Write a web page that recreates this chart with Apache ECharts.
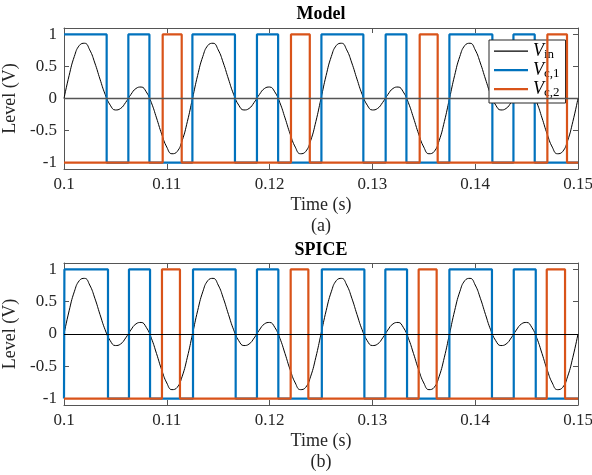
<!DOCTYPE html>
<html><head><meta charset="utf-8">
<script src="https://cdn.jsdelivr.net/npm/echarts@6/dist/echarts.min.js"></script>
<style>html,body{margin:0;padding:0;background:#fff}#c{width:592px;height:475px}</style>
</head><body><div id="c"></div>
<script>
// ---- data ----
const xTicks = [0.1, 0.11, 0.12, 0.13, 0.14, 0.15];
const yTicks = [-1, -0.5, 0, 0.5, 1];
const yTickLabels = ['-1', '-0.5', '0', '0.5', '1'];

const vinT = [0.1000,0.1005,0.1010,0.1015,0.1020,0.1025,0.1030,0.1035,0.1040,0.1045,
0.1050,0.1055,0.1060,0.1065,0.1070,0.1075,0.1080,0.1085,0.1090,0.1095,
0.1100,0.1105,0.1110,0.1115,0.1120,0.1125,0.1130,0.1135,0.1140,0.1145,
0.1150,0.1155,0.1160,0.1165,0.1170,0.1175,0.1180,0.1185,0.1190,0.1195,
0.1200,0.1205,0.1210,0.1215,0.1220,0.1225,0.1230,0.1235,0.1240,0.1245,
0.1250,0.1255,0.1260,0.1265,0.1270,0.1275,0.1280,0.1285,0.1290,0.1295,
0.1300,0.1305,0.1310,0.1315,0.1320,0.1325,0.1330,0.1335,0.1340,0.1345,
0.1350,0.1355,0.1360,0.1365,0.1370,0.1375,0.1380,0.1385,0.1390,0.1395,
0.1400,0.1405,0.1410,0.1415,0.1420,0.1425,0.1430,0.1435,0.1440,0.1445,
0.1450,0.1455,0.1460,0.1465,0.1470,0.1475,0.1480,0.1485,0.1490,0.1495,0.1500];
const vinV = [0,0.360,0.654,0.829,0.862,0.759,0.554,0.303,0.066,-0.104,-0.179,-0.156,-0.061,0.061,0.156,0.179,0.104,-0.066,-0.303,-0.554,-0.759,-0.862,-0.829,-0.654,-0.360,
0,0.360,0.654,0.829,0.862,0.759,0.554,0.303,0.066,-0.104,-0.179,-0.156,-0.061,0.061,0.156,0.179,0.104,-0.066,-0.303,-0.554,-0.759,-0.862,-0.829,-0.654,-0.360,
0,0.360,0.654,0.829,0.862,0.759,0.554,0.303,0.066,-0.104,-0.179,-0.156,-0.061,0.061,0.156,0.179,0.104,-0.066,-0.303,-0.554,-0.759,-0.862,-0.829,-0.654,-0.360,
0,0.360,0.654,0.829,0.862,0.759,0.554,0.303,0.066,-0.104,-0.179,-0.156,-0.061,0.061,0.156,0.179,0.104,-0.066,-0.303,-0.554,-0.759,-0.862,-0.829,-0.654,-0.360,
0];

// comparator outputs: starting level and toggle times
const modelVc1Start = 1;
const modelVc1Edges = [0.10415,0.10626,0.10831,0.11249,0.11663,0.11877,0.12083,0.12504,0.12912,0.13129,0.13331,0.13749,0.14167,0.14372,0.14579];
const modelVc2Start = -1;
const modelVc2Edges = [0.1096,0.11145,0.12208,0.12391,0.1346,0.13635,0.14702,0.14893];
const spiceVc1Start = -1;
const spiceVc1Edges = [0.10004,0.10428,0.10632,0.10837,0.11255,0.1167,0.11877,0.12085,0.12508,0.12922,0.13126,0.13337,0.13749,0.14163,0.14375,0.14589];
const spiceVc2Start = -1;
const spiceVc2Edges = [0.10953,0.11128,0.12205,0.12377,0.1345,0.13625,0.14696,0.14874];

// ---- build ----
const T0 = 0.1, T1 = 0.15;
function square(start, edges) {
  const pts = [[T0, start]];
  let lv = start;
  edges.forEach(e => { pts.push([e, lv]); lv = -lv; pts.push([e, lv]); });
  pts.push([T1, lv]);
  return pts;
}
const vin = vinT.map((t, i) => [t, vinV[i]]);

const FONT = 'Liberation Serif';
const AX = '#262626';
const BLUE = '#0072BD', ORANGE = '#D95319';

function xAx(grid, pos) {
  const main = pos === 'bottom';
  return {
    type: 'value', gridIndex: grid, position: pos, min: T0, max: T1, interval: 0.01,
    axisLine: { show: true, onZero: false, lineStyle: { color: '#555', width: 1 } },
    axisTick: { show: true, inside: true, length: 5, lineStyle: { color: '#555' } },
    axisLabel: { show: main, margin: 7, color: AX, fontFamily: FONT, fontSize: 17,
      formatter: v => String(parseFloat(v.toFixed(3))) },
    splitLine: { show: false },
    name: main ? 'Time (s)' : '', nameLocation: 'middle', nameGap: 27,
    nameTextStyle: { color: AX, fontFamily: FONT, fontSize: 18 }
  };
}
function yAx(grid, pos) {
  const main = pos === 'left';
  return {
    type: 'value', gridIndex: grid, position: pos, min: -1.1, max: 1.1,
    axisLine: { show: true, onZero: false, lineStyle: { color: '#555', width: 1 } },
    axisTick: { show: true, inside: true, length: 5, customValues: yTicks, lineStyle: { color: '#555' } },
    axisLabel: { show: main, margin: 7, color: AX, fontFamily: FONT, fontSize: 17, customValues: yTicks,
      formatter: v => yTickLabels[yTicks.indexOf(v)] ?? String(v) },
    splitLine: { show: false },
    name: main ? 'Level (V)' : '', nameLocation: 'middle', nameGap: 38,
    nameTextStyle: { color: AX, fontFamily: FONT, fontSize: 18 }
  };
}

function panel(gi, vc1, vc2, zeroColor, zeroWidth) {
  const xi = gi * 2, yi = gi * 2;
  return [
    { name: 'Vin', type: 'line', xAxisIndex: xi, yAxisIndex: yi, data: vin, smooth: 0.5,
      showSymbol: false, symbol: 'none', itemStyle: { color: '#000' },
      lineStyle: { color: '#000', width: 1 }, z: 2,
      markLine: { silent: true, symbol: 'none', label: { show: false },
        lineStyle: { color: zeroColor, width: zeroWidth, type: 'solid' }, data: [{ yAxis: 0 }] } },
    { name: 'Vc1', type: 'line', xAxisIndex: xi, yAxisIndex: yi, data: vc1,
      showSymbol: false, symbol: 'none', itemStyle: { color: BLUE },
      lineStyle: { color: BLUE, width: 2.2 }, z: 3 },
    { name: 'Vc2', type: 'line', xAxisIndex: xi, yAxisIndex: yi, data: vc2,
      showSymbol: false, symbol: 'none', itemStyle: { color: ORANGE },
      lineStyle: { color: ORANGE, width: 2.2 }, z: 4 }
  ];
}

const legendNames = { Vin: 'in', Vc1: 'c,1', Vc2: 'c,2' };
const thin = 'path://M0,0 M0,4.5 L34,4.5 L34,5.7 L0,5.7 Z M34,10';
const thick = 'path://M0,0 M0,3.9 L34,3.9 L34,6.3 L0,6.3 Z M34,10';

const option = {
  animation: false,
  backgroundColor: '#fff',
  title: [
    { text: 'Model', left: 321, top: 5, textAlign: 'center', padding: 0,
      textStyle: { fontFamily: FONT, fontSize: 18, fontWeight: 'bold', color: '#000' } },
    { text: '(a)', left: 321, top: 217, textAlign: 'center', padding: 0,
      textStyle: { fontFamily: FONT, fontSize: 18, fontWeight: 'normal', color: AX } },
    { text: 'SPICE', left: 321, top: 241, textAlign: 'center', padding: 0,
      textStyle: { fontFamily: FONT, fontSize: 18, fontWeight: 'bold', color: '#000' } },
    { text: '(b)', left: 321, top: 453, textAlign: 'center', padding: 0,
      textStyle: { fontFamily: FONT, fontSize: 18, fontWeight: 'normal', color: AX } }
  ],
  grid: [
    { left: 64, right: 14, top: 28, height: 141, outerBoundsMode: 'none', containLabel: false },
    { left: 64, right: 14, top: 263, height: 142, outerBoundsMode: 'none', containLabel: false }
  ],
  xAxis: [xAx(0, 'bottom'), xAx(0, 'top'), xAx(1, 'bottom'), xAx(1, 'top')],
  yAxis: [yAx(0, 'left'), yAx(0, 'right'), yAx(1, 'left'), yAx(1, 'right')],
  legend: {
    left: 489, top: 40, orient: 'vertical', itemWidth: 34, itemHeight: 10, itemGap: 0,
    padding: [2, 6, 4, 5], backgroundColor: '#fff', borderColor: '#262626', borderWidth: 1,
    selectedMode: false, itemStyle: { borderWidth: 0 },
    data: [
      { name: 'Vin', icon: thin },
      { name: 'Vc1', icon: thick },
      { name: 'Vc2', icon: thick }
    ],
    formatter: n => '{v|V}{s|' + legendNames[n] + '}',
    textStyle: {
      fontFamily: FONT, color: '#000',
      rich: {
        v: { fontFamily: FONT, fontStyle: 'italic', fontSize: 18, lineHeight: 20, color: '#000' },
        s: { fontFamily: FONT, fontSize: 13, lineHeight: 8, color: '#000', verticalAlign: 'bottom' }
      }
    }
  },
  series: [
    ...panel(0, square(modelVc1Start, modelVc1Edges), square(modelVc2Start, modelVc2Edges), '#555', 1.3),
    ...panel(1, square(spiceVc1Start, spiceVc1Edges), square(spiceVc2Start, spiceVc2Edges), '#000', 1)
  ]
};
echarts.init(document.getElementById('c')).setOption(option);
</script>
</body></html>
